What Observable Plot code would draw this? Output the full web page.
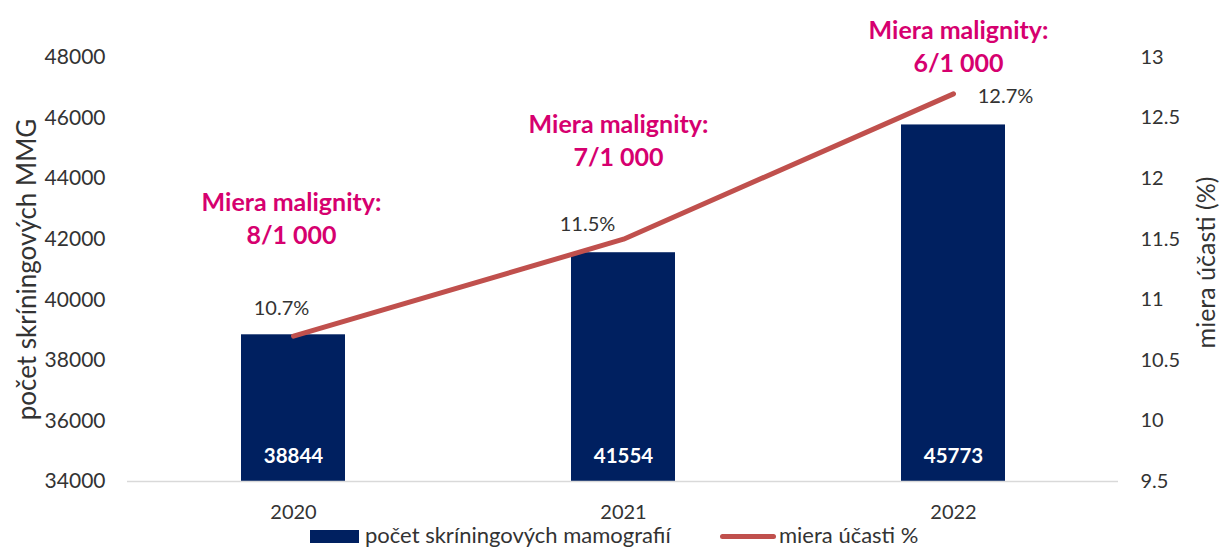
<!DOCTYPE html>
<html>
<head>
<meta charset="utf-8">
<script src="https://cdn.jsdelivr.net/npm/d3@7"></script>
<script src="https://cdn.jsdelivr.net/npm/@observablehq/plot@0.6"></script>
<style>
  html, body { margin: 0; padding: 0; background: #fff; }
  body { width: 1222px; height: 550px; overflow: hidden; font-family: Lato, "Open Sans", sans-serif; }
  #legend { position: relative; height: 28px; width: 1222px; color: #333; font-size: 22px; }
  #legend .sw { position: absolute; }
  #legend .lbl { position: absolute; top: 1px; line-height: 24px; white-space: nowrap; }
</style>
</head>
<body>
<div id="chart"></div>
<div id="legend"></div>
<script>
// ---- data ----
const years = ["2020", "2021", "2022"];
const screenings = [38844, 41554, 45773];
const participation = [10.7, 11.5, 12.7];
const malignity = ["8/1 000", "7/1 000", "6/1 000"];
const leftTicks = [34000, 36000, 38000, 40000, 42000, 44000, 46000, 48000];
const rightTicks = [9.5, 10, 10.5, 11, 11.5, 12, 12.5, 13];
const seriesNames = ["počet skríningových mamografií", "miera účasti %"];
const leftTitle = "počet skríningových MMG";
const rightTitle = "miera účasti (%)";

// ---- style ----
const navy = "#002060";
const red = "#C0504D";
const magenta = "#D6006F";
const ink = "#333333";
const font = "Lato, 'Open Sans', sans-serif";

const L0 = 34000, L1 = 48000, R0 = 9.5, R1 = 13;
const toLeft = v => L0 + (v - R0) / (R1 - R0) * (L1 - L0);
const toRight = v => R0 + (v - L0) / (L1 - L0) * (R1 - R0);

const rows = years.map((year, i) => ({
  year,
  count: screenings[i],
  rate: participation[i],
  rateY: toLeft(participation[i]),
  pct: participation[i].toFixed(1) + "%",
  malig: "Miera malignity:\n" + malignity[i]
}));

const pctOffsets = [[-12, -28], [-36, -15], [52, 3]];
const maligOffsets = [[-2, 159.5], [-5, 81.5], [5, -13]];

const chart = Plot.plot({
  width: 1222,
  height: 522,
  marginTop: 57,
  marginBottom: 41,
  marginLeft: 127,
  marginRight: 104,
  style: { fontFamily: font, color: ink, background: "#fff" },
  x: { domain: years, paddingInner: 0.685, paddingOuter: 0.3425 },
  y: { domain: [L0, L1], range: [481, 57] },
  marks: [
    Plot.barY(rows, { x: "year", y1: L0, y2: "count", fill: navy }),
    Plot.ruleY([L0], { stroke: "#d9d9d9", strokeWidth: 1.5 }),
    Plot.axisY({ ticks: leftTicks, tickSize: 0, tickPadding: 22, fontSize: 21, label: null, tickFormat: d => String(d) }),
    Plot.axisY({ anchor: "right", ticks: rightTicks.map(toLeft), tickSize: 0, tickPadding: 22, fontSize: 20, label: null,
      tickFormat: d => String(+toRight(d).toFixed(1)) }),
    Plot.axisX({ tickSize: 0, tickPadding: 23, fontSize: 20, label: null }),
    Plot.line(rows, { x: "year", y: "rateY", stroke: red, strokeWidth: 5, strokeLinecap: "round", strokeLinejoin: "round" }),
    Plot.text(rows, { x: "year", y: L0, text: d => String(d.count), fill: "#fff", fontWeight: "bold", fontSize: 20.5, dy: -25, lineAnchor: "middle" }),
    ...rows.map((r, i) => Plot.text([r], { x: "year", y: "rateY", text: "pct", fill: ink, fontSize: 20,
      dx: pctOffsets[i][0], dy: pctOffsets[i][1], lineAnchor: "middle" })),
    ...rows.map((r, i) => Plot.text([r], { x: "year", frameAnchor: "top", text: "malig", fill: magenta, fontWeight: "bold",
      fontSize: 25, lineHeight: 1.32, dx: maligOffsets[i][0], dy: maligOffsets[i][1], lineAnchor: "middle" })),
    Plot.text([leftTitle], { frameAnchor: "left", textAnchor: "middle", text: d => d, rotate: -90, dx: -100, dy: 0, fontSize: 26, fill: ink, lineAnchor: "middle" }),
    Plot.text([rightTitle], { frameAnchor: "right", textAnchor: "middle", text: d => d, rotate: -90, dx: 88, dy: -7, fontSize: 25, fill: ink, lineAnchor: "middle" })
  ]
});
document.getElementById("chart").appendChild(chart);

// legend
const legend = document.getElementById("legend");
legend.innerHTML = `
  <div class="sw" style="left:310px;top:8px;width:49px;height:13px;background:${navy}"></div>
  <div class="lbl" style="left:365px">${seriesNames[0]}</div>
  <div class="sw" style="left:720px;top:12px;width:56px;height:5px;border-radius:3px;background:${red}"></div>
  <div class="lbl" style="left:779px">${seriesNames[1]}</div>
`;
</script>
</body>
</html>
